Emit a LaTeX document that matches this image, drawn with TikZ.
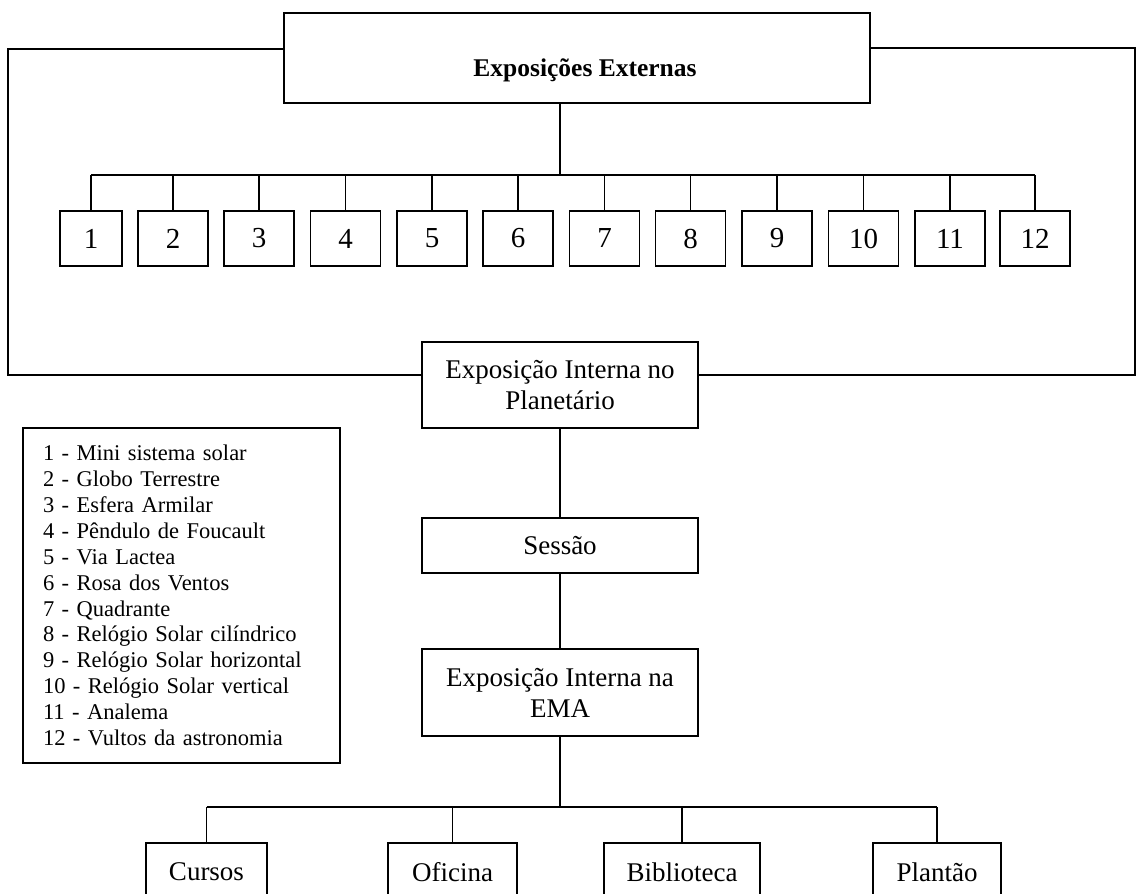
\documentclass[tikz,border=0pt]{standalone}
\usepackage{fontspec}
\setmainfont{Liberation Serif}

\tikzset{
  link/.style={line width=1.5pt},
  mainbox/.style={draw, line width=1.5pt, minimum width=276pt, inner sep=0pt, align=center, font=\fontsize{27}{31}\selectfont},
  numbox/.style={draw, line width=1.5pt, minimum width=70pt, minimum height=55pt, inner sep=0pt, font=\fontsize{29}{34}\selectfont},
  actbox/.style={draw, line width=1.5pt, minimum height=58pt, inner sep=0pt, font=\fontsize{27}{31}\selectfont},
}

\begin{document}
\begin{tikzpicture}[x=1pt,y=-1pt]
\useasboundingbox (0,0) rectangle (1136,894);

% exposicoes externas
\node[draw, line width=2pt, minimum width=586pt, minimum height=90pt] (ext) at (577,58) {};
\node[font=\fontsize{25.5}{30}\selectfont\bfseries] (exttitle) at (585,70) {Exposições Externas};

\node[numbox, minimum width=62pt] (n1) at (91,238.5) {1};
\foreach \i/\x in {2/173,3/259,4/345.5,5/432,6/518,7/604.5,8/690.5,9/777,10/863.5,11/950,12/1035}
  \node[numbox] (n\i) at (\x,238.5) {\i};

\coordinate (bus) at (560,175);
\draw[link] (ext.south -| bus) -- (bus);
\draw[link] (n1.north |- bus) -- (n12.north |- bus);
\foreach \i in {1,...,12}
  \draw[link] (n\i.north) -- (n\i.north |- bus);

% exposicoes internas
\node[mainbox, minimum height=86pt] (plan) at (560,385) {Exposição Interna no\\Planetário};
\node[mainbox, minimum height=55pt] (sessao) at (560,545.5) {Sessão};
\node[mainbox, minimum height=87pt] (ema) at (560,692.5) {Exposição Interna na\\EMA};

\coordinate (lt) at (8,49);
\coordinate (lb) at (8,375);
\coordinate (rt) at (1135,48);
\coordinate (rb) at (1135,375);
\draw[link] (ext.west |- lt) -- (lt) -- (lb) -- (lb -| plan.west);
\draw[link] (ext.east |- rt) -- (rt) -- (rb) -- (rb -| plan.east);

\draw[link] (plan) -- (sessao);
\draw[link] (sessao) -- (ema);

% atividades
\node[actbox, minimum width=121pt] (cursos) at (206.5,872) {Cursos};
\node[actbox, minimum width=129pt] (oficina) at (452.5,872) {Oficina};
\node[actbox, minimum width=156pt] (biblio) at (682,872) {Biblioteca};
\node[actbox, minimum width=128pt] (plantao) at (937,872) {Plantão};

\coordinate (bus2) at (560,807);
\draw[link] (ema) -- (bus2);
\draw[link] (cursos.north |- bus2) -- (plantao.north |- bus2);
\foreach \n in {cursos,oficina,biblio,plantao}
  \draw[link] (\n.north) -- (\n.north |- bus2);

% legenda
\node[draw, line width=1.5pt, minimum width=317pt, minimum height=335pt, text width=277pt,
  align=left, inner sep=0pt, font=\fontsize{22.5}{25.9}\selectfont] (legenda) at (181.5,595.5)
  {1 - Mini sistema solar\\
   2 - Globo Terrestre\\
   3 - Esfera Armilar\\
   4 - Pêndulo de Foucault\\
   5 - Via Lactea\\
   6 - Rosa dos Ventos\\
   7 - Quadrante\\
   8 - Relógio Solar cilíndrico\\
   9 - Relógio Solar horizontal\\
   10 - Relógio Solar vertical\\
   11 - Analema\\
   12 - Vultos da astronomia};
\end{tikzpicture}
\end{document}
